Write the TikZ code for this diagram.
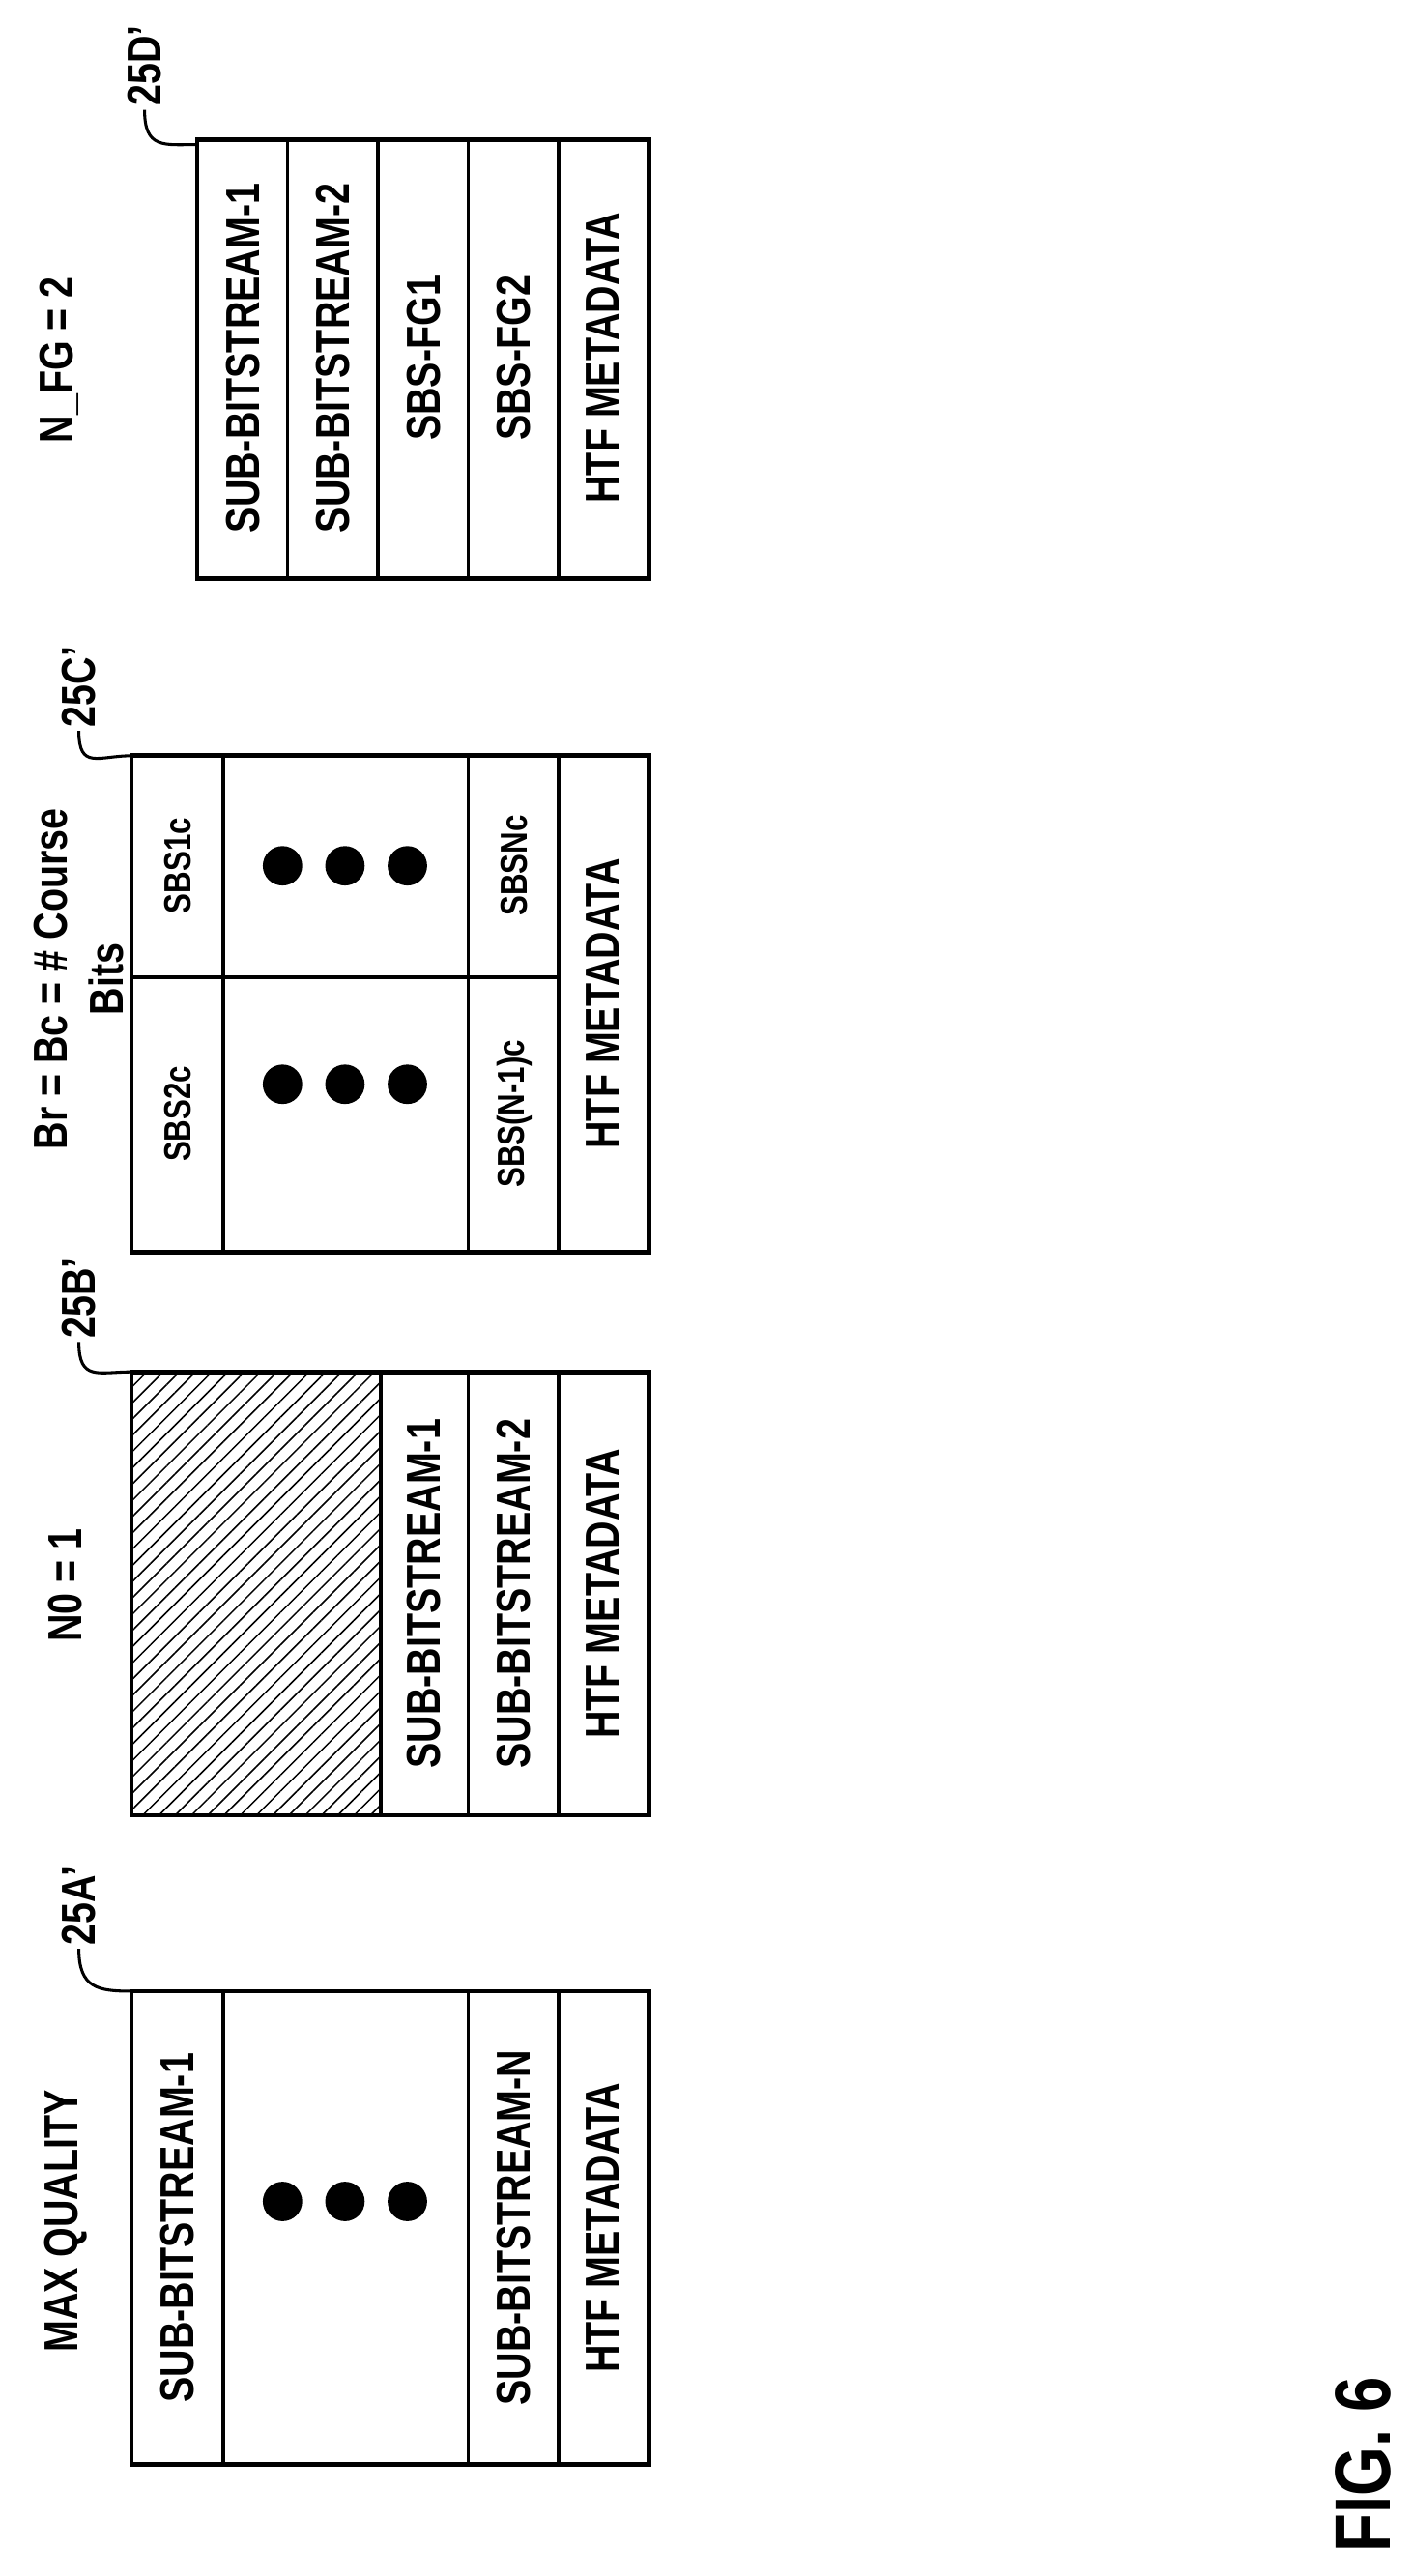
\documentclass[tikz,border=0pt]{standalone}
\usepackage{fontspec}
\setmainfont{Liberation Sans}[FakeStretch=0.8]
\usetikzlibrary{patterns.meta}
\begin{document}
\begin{tikzpicture}[x=0.5pt,y=-0.5pt,
  lbl/.style={rotate=90,font=\bfseries\fontsize{14.5}{17}\selectfont,inner sep=1pt},
  slbl/.style={rotate=90,font=\bfseries\fontsize{11.5}{13}\selectfont,inner sep=1pt},
  box/.style={draw,line width=1.4pt},
  dv/.style={line width=1.1pt},
  dot/.style={fill=black,circle,minimum size=12pt,inner sep=0pt},
  lead/.style={line width=0.9pt}]
\useasboundingbox (0,0) rectangle (860,1568);
% Box A
\draw[box] (80,1212) rectangle (395,1500);
\foreach \x in {136,285,340} \draw[dv] (\x,1212) -- (\x,1500);
\node[lbl] (a1) at (108,1356) {SUB-BITSTREAM-1};
\node[dot] (ad1) at (172,1340) {};\node[dot] (ad2) at (210,1340) {};\node[dot] (ad3) at (248,1340) {};
\node[lbl] (an) at (313,1356) {SUB-BITSTREAM-N};
\node[lbl] (ah) at (367,1356) {HTF METADATA};
\node[lbl] (at) at (40,1352) {MAX QUALITY};
\node[lbl] (aL) at (48,1160) {25A’};
\coordinate (ac) at (80,1212);
\draw[lead] (aL.west) .. controls ([yshift=-12pt]aL.west) and ([xshift=-10pt]ac) .. (ac);
% Box B
\fill[pattern={Lines[angle=45,distance=3.5pt,line width=0.45pt]}] (80,835) rectangle (232,1105);
\draw[box] (80,835) rectangle (395,1105);
\foreach \x in {232,285,340} \draw[dv] (\x,835) -- (\x,1105);
\node[lbl] (b1) at (258,970) {SUB-BITSTREAM-1};
\node[lbl] (b2) at (313,970) {SUB-BITSTREAM-2};
\node[lbl] (bh) at (367,970) {HTF METADATA};
\node[lbl] (bt) at (40,965) {N0 = 1};
\node[lbl] (bL) at (48,790) {25B’};
\coordinate (bc) at (80,835);
\draw[lead] (bL.west) .. controls ([yshift=-12pt]bL.west) and ([xshift=-10pt]bc) .. (bc);
% Box C
\draw[box] (80,460) rectangle (395,762);
\foreach \x in {136,285,340} \draw[dv] (\x,460) -- (\x,762);
\draw[dv] (80,595) -- (340,595);
\node[slbl] (c2) at (108,678) {SBS2c};
\node[slbl] (c1) at (108,527) {SBS1c};
\foreach \y/\n in {660/l,527/r}{
  \node[dot] (cd\n1) at (172,\y) {};\node[dot] (cd\n2) at (210,\y) {};\node[dot] (cd\n3) at (248,\y) {};}
\node[slbl] (cn1) at (313,678) {SBS(N-1)c};
\node[slbl] (cn) at (313,527) {SBSNc};
\node[lbl] (ch) at (367,611) {HTF METADATA};
\node[lbl,align=center] (ct) at (48,596) {Br = Bc = \# Course\\Bits};
\node[lbl] (cL) at (48,418) {25C’};
\coordinate (cc) at (80,460);
\draw[lead] (cL.west) .. controls ([yshift=-12pt]cL.west) and ([xshift=-10pt]cc) .. (cc);
% Box D
\draw[box] (120,85) rectangle (395,352);
\foreach \x in {175,230,285,340} \draw[dv] (\x,85) -- (\x,352);
\node[lbl] (d1) at (148,218) {SUB-BITSTREAM-1};
\node[lbl] (d2) at (203,218) {SUB-BITSTREAM-2};
\node[lbl] (d3) at (258,218) {SBS-FG1};
\node[lbl] (d4) at (313,218) {SBS-FG2};
\node[lbl] (dh) at (367,218) {HTF METADATA};
\node[lbl] (dt) at (36,219) {N\_FG = 2};
\node[lbl] (dL) at (88,40) {25D’};
\coordinate (dc) at (120,88);
\draw[lead] (dL.west) .. controls ([yshift=-12pt]dL.west) and ([xshift=-10pt]dc) .. (dc);
% Figure label
\node[rotate=90,font=\bfseries\fontsize{24}{28}\selectfont] (fig) at (830,1500) {FIG. 6};
\end{tikzpicture}
\end{document}
